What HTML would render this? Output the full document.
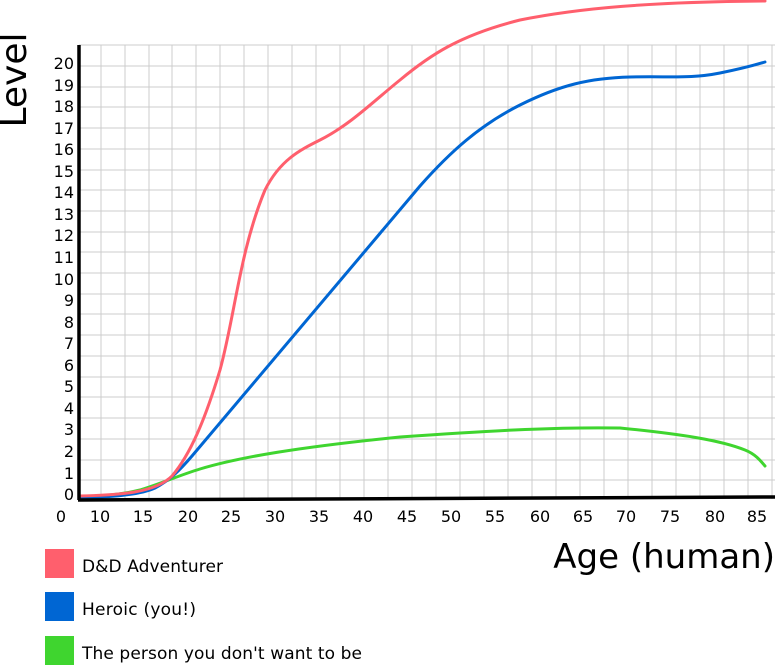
<!DOCTYPE html><html><head><style>body{margin:0;background:#fff}svg text{font-family:"DejaVu Sans","Liberation Sans",sans-serif;fill:#000}</style></head><body>
<svg width="775" height="666" viewBox="0 0 775 666" xmlns="http://www.w3.org/2000/svg">
<g stroke="#ccc" stroke-width="1">
<path d="M101 45V499M125 45V499M149 45V499M172 45V499M196 45V499M220 45V499M244 45V499M268 45V499M292 45V499M316 45V499M340 45V499M364 45V499M388 45V499M412 45V499M436 45V499M460 45V499M484 45V499M508 45V499M532 45V499M556 45V499M580 45V499M604 45V499M628 45V499M652 45V499M676 45V499M700 45V499M724 45V499M748 45V499M772 45V499"/>
<path d="M79 45H775M79 66H775M79 87H775M79 107H775M79 128H775M79 149H775M79 170H775M79 190H775M79 211H775M79 232H775M79 252H775M79 273H775M79 294H775M79 314H775M79 335H775M79 356H775M79 377H775M79 397H775M79 418H775M79 439H775M79 460H775M79 480H775"/>
</g>
<g fill="none" stroke-width="3" stroke-linecap="round" stroke-linejoin="round">
<path stroke="#3fd52f" d="M79 497C100 496 120 495 140 490C160 484 180 475 200 469C240 457 300 447 400 437C500 430 560 427 620 428C680 434 720 440 745 450C755 454 760 460 765 466"/>
<path stroke="#0066d3" d="M79 498C110 497 140 495 155 488C170 480 180 470 192 456L420 186C450 152 480 125 520 105C560 85 590 78 630 77C670 76 690 79 720 73C740 69 755 65 765 62"/>
<path stroke="#ff5f6d" d="M79 496C120 495 155 493 172 476C190 455 205 420 220 370C235 315 240 250 265 190C280 160 300 150 320 140C350 125 375 100 400 80C430 55 460 35 520 20C580 8 650 2 765 1"/>
</g>
<path d="M79 45V500M78 500L775 497" stroke="#000" stroke-width="3.5" fill="none"/>
<g font-size="16" text-anchor="end">
<text x="74" y="69">20</text><text x="74" y="91">19</text><text x="74" y="112">18</text><text x="74" y="134">17</text><text x="74" y="155">16</text><text x="74" y="177">15</text><text x="74" y="198">14</text><text x="74" y="220">13</text><text x="74" y="241">12</text><text x="74" y="263">11</text><text x="74" y="285">10</text><text x="74" y="306">9</text><text x="74" y="328">8</text><text x="74" y="349">7</text><text x="74" y="371">6</text><text x="74" y="392">5</text><text x="74" y="414">4</text><text x="74" y="435">3</text><text x="74" y="457">2</text><text x="74" y="479">1</text><text x="74" y="500">0</text>
</g>
<g font-size="16" text-anchor="middle">
<text x="61" y="522">0</text><text x="100" y="522">10</text><text x="143" y="522">15</text><text x="188" y="522">20</text><text x="231" y="522">25</text><text x="275" y="522">30</text><text x="319" y="522">35</text><text x="363" y="522">40</text><text x="407" y="522">45</text><text x="451" y="522">50</text><text x="495" y="522">55</text><text x="540" y="522">60</text><text x="583" y="522">65</text><text x="626" y="522">70</text><text x="670" y="522">75</text><text x="715" y="522">80</text><text x="757" y="522">85</text>
</g>
<text x="26" y="80" font-size="36" text-anchor="middle" transform="rotate(-90 26 80)">Level</text>
<text x="775" y="568" font-size="34" text-anchor="end">Age (human)</text>
<rect x="45" y="549" width="29" height="29" fill="#ff5f6d"/>
<rect x="45" y="592" width="29" height="29" fill="#0066d3"/>
<rect x="45" y="636" width="29" height="29" fill="#3fd52f"/>
<g font-size="17" textLength="0"><text x="82" y="572" textLength="141">D&amp;D Adventurer</text><text x="82" y="615" textLength="114">Heroic (you!)</text><text x="82" y="659" textLength="280">The person you don't want to be</text></g>
</svg></body></html>
